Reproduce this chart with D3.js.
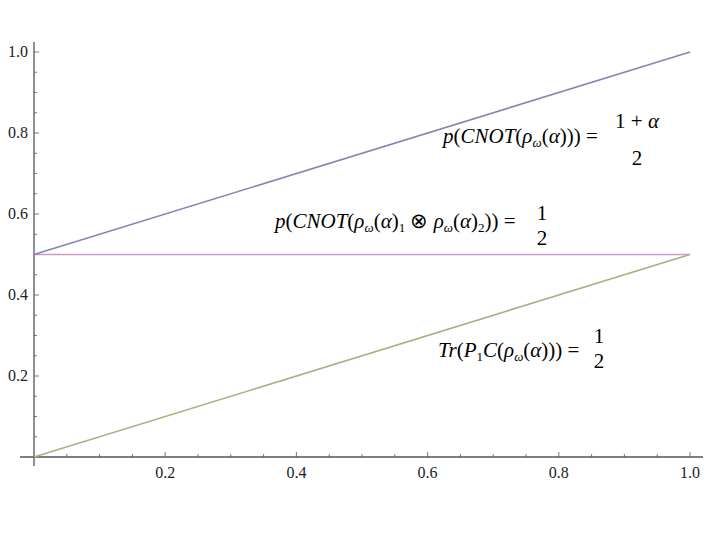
<!DOCTYPE html>
<html><head><meta charset="utf-8">
<script src="https://cdn.jsdelivr.net/npm/d3@7"></script>
</head><body style="margin:0">
<svg id="chart" width="720" height="540"></svg>
<script>
// ---- data ----
const alphaValues = [0, 1];
const cnotValues = [0.5, 1.0];      // (1+α)/2
const tensorValues = [0.5, 0.5];    // 1/2
const traceValues = [0.0, 0.5];     // lower line
const tickLabels = [0.2, 0.4, 0.6, 0.8, 1.0];
const minorTickValues = [0.05,0.1,0.15,0.2,0.25,0.3,0.35,0.4,0.45,0.5,0.55,0.6,0.65,0.7,0.75,0.8,0.85,0.9,0.95,1.0];
const lineColors = ["#8585b5", "#c89cc4", "#aeae80"];

const svg = d3.select("#chart");
const xs = d3.scaleLinear().domain([0, 1]).range([34, 690]);
const ys = d3.scaleLinear().domain([0, 1]).range([457, 52]);
const axisCol = "#555";
const fmt = d3.format(".1f");

// axis lines
svg.append("line").attr("x1", 20).attr("x2", 703).attr("y1", ys(0)).attr("y2", ys(0))
  .attr("stroke", axisCol).attr("stroke-width", 1.3);
svg.append("line").attr("x1", xs(0)).attr("x2", xs(0)).attr("y1", 42).attr("y2", 466)
  .attr("stroke", axisCol).attr("stroke-width", 1.3);

const major = v => tickLabels.some(m => Math.abs(m - v) < 1e-9);
svg.append("g").selectAll("line").data(minorTickValues).join("line")
  .attr("x1", d => xs(d)).attr("x2", d => xs(d))
  .attr("y1", ys(0)).attr("y2", d => ys(0) - (major(d) ? 5 : 3))
  .attr("stroke", axisCol).attr("stroke-width", 0.8);
svg.append("g").selectAll("line").data(minorTickValues).join("line")
  .attr("y1", d => ys(d)).attr("y2", d => ys(d))
  .attr("x1", xs(0)).attr("x2", d => xs(0) + (major(d) ? 5 : 3))
  .attr("stroke", axisCol).attr("stroke-width", 0.8);

// tick labels
svg.append("g").selectAll("text").data(tickLabels).join("text")
  .attr("x", d => xs(d)).attr("y", 478)
  .attr("text-anchor", "middle")
  .style("font-family", "'Liberation Serif'").attr("font-size", 16)
  .attr("fill", "#222").text(fmt);
svg.append("g").selectAll("text").data(tickLabels).join("text")
  .attr("x", 28).attr("y", d => ys(d) + 5)
  .attr("text-anchor", "end")
  .style("font-family", "'Liberation Serif'").attr("font-size", 16)
  .attr("fill", "#222").text(fmt);

// series lines
const gen = d3.line().x((d, i) => xs(alphaValues[i])).y(d => ys(d));
svg.append("path").attr("d", gen(traceValues)).attr("fill", "none").attr("stroke", lineColors[2]).attr("stroke-width", 1.6);
svg.append("path").attr("d", gen(tensorValues)).attr("fill", "none").attr("stroke", lineColors[1]).attr("stroke-width", 1.6);
svg.append("path").attr("d", gen(cnotValues)).attr("fill", "none").attr("stroke", lineColors[0]).attr("stroke-width", 1.6);

// math annotations
const FS = 21;
function eq(x0, yb, parts) {
  const t = svg.append("text").attr("x", x0).attr("y", yb)
    .style("font-family", "'Liberation Serif'").attr("font-size", FS).attr("fill", "#000");
  parts.forEach(p => {
    const ts = t.append("tspan").text(p.t);
    if (p.it) ts.style("font-style", "italic");
    if (p.sub) ts.attr("font-size", 13);
    if (p.dy) ts.attr("dy", p.dy);
  });
}
function frac(cx, yNum, yDen, num, den) {
  const a = svg.append("text").attr("x", cx).attr("y", yNum).attr("text-anchor", "middle")
    .style("font-family", "'Liberation Serif'").attr("font-size", FS).attr("fill", "#000");
  num.forEach(p => { const ts = a.append("tspan").text(p.t); if (p.it) ts.style("font-style", "italic"); });
  svg.append("text").attr("x", cx).attr("y", yDen).attr("text-anchor", "middle")
    .style("font-family", "'Liberation Serif'").attr("font-size", FS).attr("fill", "#000").text(den);
}
eq(443, 143, [
  {t: "p", it: true}, {t: "("}, {t: "CNOT", it: true}, {t: "("}, {t: "ρ", it: true},
  {t: "ω", it: true, sub: true, dy: 4}, {t: "(", dy: -4}, {t: "α", it: true}, {t: "))) = "}
]);
frac(637, 128, 165, [{t: "1 + "}, {t: "α", it: true}], "2");
eq(275, 228, [
  {t: "p", it: true}, {t: "("}, {t: "CNOT", it: true}, {t: "("}, {t: "ρ", it: true},
  {t: "ω", it: true, sub: true, dy: 4}, {t: "(", dy: -4}, {t: "α", it: true}, {t: ")"},
  {t: "1", sub: true, dy: 4}, {t: " ⊗ ", dy: -4}, {t: "ρ", it: true},
  {t: "ω", it: true, sub: true, dy: 4}, {t: "(", dy: -4}, {t: "α", it: true}, {t: ")"},
  {t: "2", sub: true, dy: 4}, {t: ")) = ", dy: -4}
]);
frac(542, 220, 245, [{t: "1"}], "2");
eq(438, 357, [
  {t: "Tr", it: true}, {t: "("}, {t: "P", it: true}, {t: "1", sub: true, dy: 4},
  {t: "C", it: true, dy: -4}, {t: "("}, {t: "ρ", it: true},
  {t: "ω", it: true, sub: true, dy: 4}, {t: "(", dy: -4}, {t: "α", it: true}, {t: "))) = "}
]);
frac(599, 343, 368, [{t: "1"}], "2");
</script>
</body></html>
